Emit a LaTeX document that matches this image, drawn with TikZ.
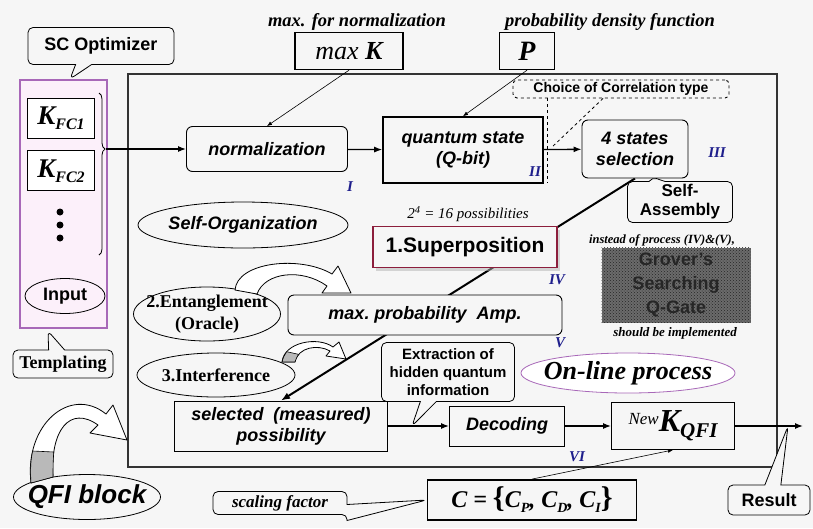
\documentclass[tikz,border=0pt]{standalone}
\usepackage{fontspec}
\setmainfont{Liberation Sans}
\newfontfamily\tms{Liberation Serif}
\usetikzlibrary{positioning,shapes.geometric,shapes.callouts,arrows.meta,decorations.pathreplacing,patterns,shadows}
\definecolor{bgc}{HTML}{F6F6F6}
\definecolor{purp}{HTML}{A868B8}
\definecolor{pinkf}{HTML}{FCF0FA}
\definecolor{navy}{HTML}{1E1E8C}
\definecolor{wine}{HTML}{8C1E3C}
\pgfdeclarelayer{back}
\pgfsetlayers{back,main}

\begin{document}
\begin{tikzpicture}[x=1pt,y=-1pt,
    lbl/.style={font=\fontsize{18}{21}\selectfont\bfseries\itshape},
    lblup/.style={font=\fontsize{18}{21}\selectfont\bfseries},
    serlbl/.style={font=\tms\fontsize{18}{21}\selectfont\bfseries},
    note/.style={font=\tms\fontsize{18.5}{21}\selectfont\bfseries\itshape},
    rom/.style={font=\tms\fontsize{15}{15}\selectfont\bfseries\itshape,text=navy},
    rbox/.style={draw,rounded corners=6pt,fill=bgc,line width=0.9pt,align=center,inner sep=2pt,lbl},
    sbox/.style={draw,fill=bgc,line width=0.9pt,align=center,inner sep=2pt},
    oval/.style={ellipse,draw,fill=bgc,line width=0.8pt,inner sep=0pt},
    callbox/.style={rectangle callout,draw,rounded corners=5pt,fill=bgc,line width=0.8pt,align=center,inner sep=2pt,callout pointer width=16pt},
    flow/.style={-{Latex[length=8pt,width=6pt]},line width=1.3pt},
    feed/.style={-{Latex[length=5pt,width=4pt]},line width=0.6pt},
    hollow/.style={draw,fill=white,line width=0.8pt,line join=round},
    dot/.style={circle,fill=black,inner sep=0pt,minimum size=7pt}
  ]
  \begin{pgfonlayer}{back}
    \fill[bgc] (0,0) rectangle (813,528);
  \end{pgfonlayer}
  \useasboundingbox (0,0) rectangle (813,528);

  \draw[line width=1.4pt,black!80] (128,74) rectangle (777,467);
  \filldraw[draw=purp,fill=pinkf,line width=1.3pt] (20,80) rectangle (107,328);

  \node[sbox,fill=white,minimum width=67,minimum height=40] (kfc1) at (61,118)
    {\tms\bfseries\itshape\fontsize{27}{27}\selectfont K\raisebox{-5pt}{\fontsize{16}{16}\selectfont FC1}};
  \node[sbox,fill=white,minimum width=67,minimum height=40,below=12pt of kfc1] (kfc2)
    {\tms\bfseries\itshape\fontsize{27}{27}\selectfont K\raisebox{-5pt}{\fontsize{16}{16}\selectfont FC2}};
  \foreach \i in {1,2,3}
    \node[dot] (d\i) at (60,199+13*\i) {};
  \draw[decorate,decoration={brace,amplitude=6pt,aspect=0.346},line width=0.8pt] (99,93) -- (99,255);
  \coordinate (brtip) at (106,149);
  \node[oval,fill=none,minimum width=80,minimum height=35,lblup] (input) at (65,296) {\makebox[0pt]{Input}};

  \coordinate (scotip) at (70,79);
  \node[callbox,callout absolute pointer={(scotip)},minimum width=146,minimum height=37,lblup] (scopt) at (101,46) {SC Optimizer};
  \coordinate (tmptip) at (48,331);
  \node[callbox,callout absolute pointer={(tmptip)},minimum width=100,minimum height=28,serlbl] (templ) at (63,364) {Templating};

  \node[note] (maxnote) at (357,22) {max. for normalization};
  \node[sbox,minimum width=108,minimum height=37,line width=1.4pt] (maxK) at (349,51)
    {\tms\itshape\fontsize{26}{26}\selectfont max \bfseries K};
  \node[note] (pnote) at (610,22) {probability density function};
  \node[sbox,minimum width=55,minimum height=37,line width=1.4pt] (P) at (527,51)
    {\tms\bfseries\itshape\fontsize{28}{28}\selectfont P};

  \node[rbox,minimum width=161,minimum height=45] (norm) at (267,149) {normalization};
  \node[sbox,lbl,line width=1.6pt,minimum width=160,minimum height=66] (qs) at (463,150) {quantum state\\(Q-bit)};
  \node[rbox,minimum width=106,minimum height=58] (sel4) at (635,149) {4 states\\selection};
  \node[draw,dashed,rounded corners=4pt,fill=bgc,line width=0.9pt,minimum width=216,minimum height=18,inner sep=1pt,
    font=\fontsize{14}{16}\selectfont\bfseries] (choice) at (621,89) {Choice of Correlation type};
  \coordinate (chtip) at (551,148);
  \draw[dashed,line width=0.8pt] ([xshift=-18pt]choice.south) -- (chtip);
  \draw[dashed,line width=0.8pt] ([xshift=35pt]choice.south west) -- ++(0,85);
  \coordinate (astip) at (652,177);
  \node[callbox,callout absolute pointer={(astip)},minimum width=105,minimum height=41,
    font=\fontsize{17}{19}\selectfont\bfseries] (selfasm) at (680,202) {Self-\\Assembly};

  \draw[flow] (brtip) -- (norm.west);
  \draw[flow] (norm) -- (qs);
  \draw[flow] (qs) -- (sel4);
  \draw[feed] (maxK.south) -- (norm.north);
  \draw[feed] (P.south) -- (qs.north);

  \node[rom] (r1) at (350,187) {I};
  \node[rom] (r2) at (535,172) {II};
  \node[rom] (r3) at (717,153) {III};
  \node[rom] (r4) at (557,280) {IV};
  \node[rom] (r5) at (560,343) {V};
  \node[rom] (r6) at (577,457) {VI};

  \node[oval,minimum width=210,minimum height=46,lbl] (selforg) at (243,225) {\makebox[0pt]{Self-Organization}};
  \node[font=\tms\fontsize{15}{15}\selectfont\itshape] (poss) at (468,214) {2\textsuperscript{4} = 16 possibilities};
  \node[draw=wine,fill=bgc,line width=1.6pt,minimum width=184,minimum height=41,
    drop shadow={shadow xshift=3pt,shadow yshift=-3pt,fill=gray!60},
    font=\fontsize{21}{21}\selectfont\bfseries] (sup) at (465,247) {1.Superposition};
  \node[font=\tms\fontsize{12.5}{13}\selectfont\bfseries\itshape] (instead) at (662,240) {instead of process (IV)\&(V),};
  \node[minimum width=149,minimum height=75,fill=black!58,postaction={pattern=crosshatch dots,pattern color=black!85},
    font=\fontsize{18}{24}\selectfont\bfseries,text=black!85,align=center] (grover) at (676,285) {Grover's\\Searching\\Q-Gate};
  \node[font=\tms\fontsize{13}{13}\selectfont\bfseries\itshape] (implem) at (675,333) {should be implemented};
  \node[rbox,minimum width=274,minimum height=40] (maxprob) at (425,315) {max.\ probability\ \ Amp.};

  \node[oval,minimum width=147,minimum height=54,serlbl] (ent) at (207,314) {\makebox[0pt]{\shortstack{2.Entanglement\\[2pt](Oracle)}}};
  \node[oval,minimum width=158,minimum height=44,serlbl] (intf) at (216,375) {\makebox[0pt]{3.Interference}};
  \node[oval,draw=purp,fill=white,minimum width=214,minimum height=40,
    font=\tms\fontsize{26}{26}\selectfont\bfseries\itshape] (online) at (628,373) {\makebox[0pt]{On-line process}};

  \node[sbox,lbl,minimum width=213,minimum height=50] (selected) at (281,426) {selected\ \ (measured)\\possibility};
  \node[sbox,lbl,minimum width=115,minimum height=40] (decoding) at (507,426) {Decoding};
  \node[sbox,minimum width=123,minimum height=47] (newK) at (673,426)
    {\tms\itshape\fontsize{17}{17}\selectfont\raisebox{7pt}{New}\fontsize{32}{32}\selectfont\bfseries K\raisebox{-6pt}{\fontsize{21}{21}\selectfont QFI}};
  \coordinate (extip) at (412,426);
  \node[callbox,callout absolute pointer={(extip)},minimum width=133,minimum height=59,
    font=\fontsize{15}{18}\selectfont\bfseries] (extract) at (448,372) {Extraction of\\hidden quantum\\information};

  \draw[flow] (selected.east) -- (decoding.west);
  \draw[flow] (decoding) -- (newK);
  \coordinate (resend) at (803,426);
  \draw[flow] (newK) -- (resend);
  \coordinate (restip) at (788,426);
  \node[callbox,callout absolute pointer={(restip)},minimum width=82,minimum height=30,lblup] (result) at (769,500) {Result};

  \node[sbox,line width=1.8pt,minimum width=209,minimum height=40,font=\tms\fontsize{24}{24}\selectfont\bfseries\itshape] (cset) at (532,500)
    {C = {\upshape\fontsize{30}{30}\selectfont\{}C\raisebox{-5pt}{\fontsize{14}{14}\selectfont P}, C\raisebox{-5pt}{\fontsize{14}{14}\selectfont D}, C\raisebox{-5pt}{\fontsize{14}{14}\selectfont I}{\upshape\fontsize{30}{30}\selectfont\}}};
  \node[callbox,callout absolute pointer={(cset.west)},minimum width=134,minimum height=23,
    font=\tms\fontsize{17}{17}\selectfont\bfseries\itshape] (scal) at (280,503) {scaling factor};
  \draw[feed] (cset.north) -- (newK.south);

  \node[oval,minimum width=147,minimum height=45,font=\fontsize{26}{26}\selectfont\bfseries\itshape] (qfi) at (87,497) {\makebox[0pt]{QFI block}};

  \filldraw[hollow] (31,483) .. controls (24,425) and (70,385) .. (106,414) -- (113,405) -- (127,440) -- (90,433) -- (98,425) .. controls (70,405) and (50,430) .. (53,477) -- cycle;
  \filldraw[fill=gray!55,line width=0.6pt] (31,483) .. controls (30,468) and (31,458) .. (32.7,451) -- (53.8,452) .. controls (53,462) and (53,470) .. (53,477) -- cycle;
  \filldraw[hollow] (235,290) .. controls (237,262) and (300,255) .. (332,274) -- (338,266) -- (351,293) -- (322,293) -- (327,286) .. controls (302,268) and (265,272) .. (257,294) -- cycle;
  \filldraw[hollow] (282,362) .. controls (284,342) and (318,336) .. (333,347) -- (339,342) -- (346,359) -- (326,356) -- (330,351) .. controls (318,344) and (298,347) .. (295,362) -- cycle;
  \filldraw[fill=gray!55,line width=0.6pt] (282,362) .. controls (283,358) and (284.5,354.5) .. (286.7,351.7) -- (298.5,354.3) .. controls (297,357) and (295.5,359.5) .. (295,362) -- cycle;

  \begin{pgfonlayer}{back}
    \draw[line width=2pt,-{Latex[length=9pt,width=7pt]}] (sel4.south) -- (selected.north);
  \end{pgfonlayer}
\end{tikzpicture}
\end{document}
